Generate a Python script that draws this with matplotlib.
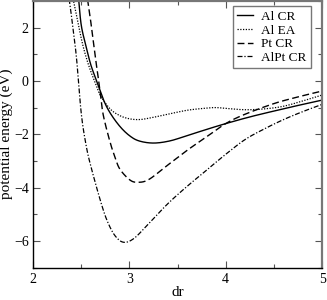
import numpy as np
import matplotlib
matplotlib.use("Agg")
import matplotlib.pyplot as plt
from matplotlib.ticker import MultipleLocator

# curve values (dr, energy in eV)
al_cr_x = [2.47, 2.50, 2.55, 2.60, 2.66, 2.73, 2.80, 2.90, 3.00, 3.10, 3.25, 3.42,
           3.60, 3.80, 4.00, 4.25, 4.50, 4.75, 5.00]
al_cr_y = [3.2, 2.1, 1.3, 0.6, 0.0, -0.7, -1.2, -1.7, -2.05, -2.25, -2.33, -2.25,
           -2.05, -1.82, -1.6, -1.35, -1.13, -0.92, -0.72]

al_ea_x = [2.40, 2.42, 2.50, 2.55, 2.60, 2.65, 2.70, 2.80, 2.90, 3.00, 3.10, 3.20,
           3.40, 3.60, 3.80, 3.90, 4.00, 4.20, 4.40, 4.60, 4.80, 5.00]
al_ea_y = [3.2, 3.0, 1.6, 0.9, 0.35, -0.1, -0.55, -1.05, -1.3, -1.42, -1.45, -1.4,
           -1.25, -1.1, -1.02, -1.0, -1.03, -1.08, -1.05, -0.95, -0.75, -0.53]

pt_cr_x = [2.56, 2.60, 2.65, 2.67, 2.70, 2.73, 2.80, 2.85, 2.90, 3.00, 3.08, 3.20,
           3.40, 3.60, 3.80, 4.00, 4.20, 4.50, 4.75, 5.00]
pt_cr_y = [3.2, 2.2, 0.8, 0.3, -0.5, -1.3, -2.3, -2.85, -3.3, -3.7, -3.8, -3.7,
           -3.15, -2.6, -2.1, -1.6, -1.25, -0.85, -0.6, -0.38]

alpt_cr_x = [2.37, 2.40, 2.45, 2.50, 2.55, 2.60, 2.70, 2.77, 2.85, 2.94, 3.05, 3.20,
             3.40, 3.60, 3.80, 4.00, 4.20, 4.40, 4.60, 4.80, 5.00]
alpt_cr_y = [3.2, 2.4, 0.9, -1.2, -2.4, -3.2, -4.5, -5.25, -5.8, -6.05, -5.9, -5.35,
             -4.6, -3.95, -3.35, -2.75, -2.2, -1.8, -1.45, -1.15, -0.88]


def smooth(xs, ys):
    # Catmull-Rom spline through the read points
    xs = np.asarray(xs, float)
    ys = np.asarray(ys, float)
    px, py = [], []
    m = len(xs)
    for i in range(m - 1):
        i0, i3 = max(i - 1, 0), min(i + 2, m - 1)
        p0, p1, p2, p3 = [np.array([xs[j], ys[j]]) for j in (i0, i, i + 1, i3)]
        t = np.linspace(0, 1, 20, endpoint=False)[:, None]
        pts = 0.5 * ((2 * p1) + (-p0 + p2) * t + (2 * p0 - 5 * p1 + 4 * p2 - p3) * t ** 2
                     + (-p0 + 3 * p1 - 3 * p2 + p3) * t ** 3)
        px.extend(pts[:, 0])
        py.extend(pts[:, 1])
    px.append(xs[-1])
    py.append(ys[-1])
    return np.array(px), np.array(py)


plt.rcParams['font.family'] = ['Liberation Serif', 'DejaVu Serif']

fig = plt.figure(figsize=(3.27, 3.0), dpi=100)
ax = fig.add_axes([0.101, 0.108, 0.884, 0.889])

ax.plot(*smooth(al_cr_x, al_cr_y), color='black', lw=1.0, label='Al CR')
ax.plot(*smooth(al_ea_x, al_ea_y), color='black', lw=0.9, ls=(0, (1, 1.2)), label='Al EA')
ax.plot(*smooth(pt_cr_x, pt_cr_y), color='black', lw=1.0, ls=(0, (5, 2.5)), label='Pt CR')
ax.plot(*smooth(alpt_cr_x, alpt_cr_y), color='black', lw=0.9, ls=(0, (4, 1.5, 1, 1.5)),
        label='AlPt CR')

ax.set_xlim(2, 5)
ax.set_ylim(-7, 3)
ax.xaxis.set_major_locator(MultipleLocator(1))
ax.xaxis.set_minor_locator(MultipleLocator(0.5))
ax.yaxis.set_major_locator(MultipleLocator(2))
ax.yaxis.set_minor_locator(MultipleLocator(1))
ax.tick_params(which='both', direction='in', top=True, right=True, labelsize=10, color='#555555')
ax.tick_params(which='major', length=5, width=0.8)
ax.tick_params(which='minor', length=3, width=0.8)
ax.tick_params(axis='x', pad=4)
ax.tick_params(axis='y', pad=3)

for side in ('top', 'right'):
    ax.spines[side].set_color('#777777')
    ax.spines[side].set_linewidth(1.6)
for side in ('left', 'bottom'):
    ax.spines[side].set_linewidth(1.0)

ax.set_xlabel('dr', fontsize=11, labelpad=0)
ax.set_ylabel('potential energy (eV)', fontsize=11, labelpad=1)

leg = ax.legend(loc='upper right', bbox_to_anchor=(0.975, 0.995), fontsize=9.5, frameon=True,
                fancybox=False, handlelength=1.2, handletextpad=0.6, borderpad=0.35,
                labelspacing=0.1, borderaxespad=0.3)
leg.get_frame().set_edgecolor('#555555')
leg.get_frame().set_linewidth(1.0)

fig.savefig('out.png', dpi=100)
